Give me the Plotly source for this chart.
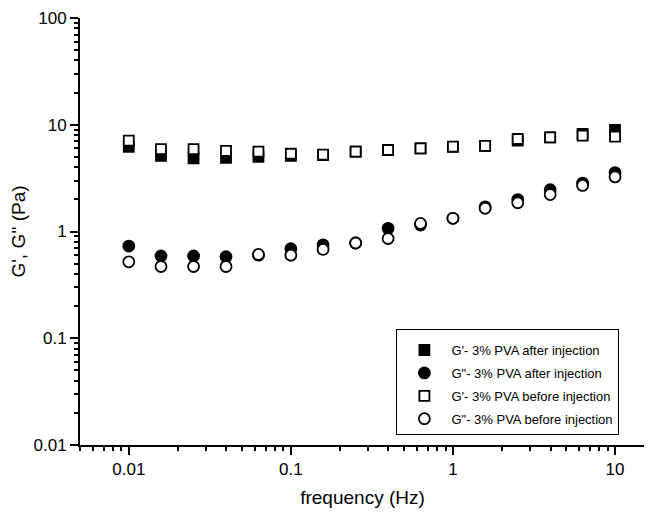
import plotly.graph_objects as go

freq = [0.01, 0.0158, 0.0251, 0.0398, 0.0631, 0.1, 0.158, 0.251, 0.398, 0.631,
        1.0, 1.58, 2.51, 3.98, 6.31, 10.0]

g1_after = [6.2, 5.1, 4.85, 4.9, 5.0, 5.1, 5.2, 5.6, 5.8, 6.0, 6.2, 6.35, 7.1, 7.6, 8.2, 8.95]
g2_after = [0.73, 0.59, 0.59, 0.58, 0.60, 0.69, 0.75, 0.78, 1.07, 1.15, 1.33, 1.7, 1.99, 2.46, 2.84, 3.56]
g1_before = [7.1, 5.9, 5.9, 5.7, 5.6, 5.35, 5.25, 5.6, 5.8, 6.0, 6.25, 6.35, 7.35, 7.6, 7.9, 7.75]
g2_before = [0.52, 0.47, 0.47, 0.47, 0.61, 0.60, 0.68, 0.78, 0.86, 1.19, 1.33, 1.65, 1.86, 2.22, 2.7, 3.25]

names = ["G'- 3% PVA after injection", "G\"- 3% PVA after injection",
         "G'- 3% PVA before injection", "G\"- 3% PVA before injection"]

x_ticks = [0.01, 0.1, 1, 10]
x_labels = ["0.01", "0.1", "1", "10"]
y_ticks = [0.01, 0.1, 1, 10, 100]
y_labels = ["0.01", "0.1", "1", "10", "100"]

FONT = "Arial, Liberation Sans, sans-serif"

fig = go.Figure()
series = [
    (g1_after, names[0], "square", "black"),
    (g2_after, names[1], "circle", "black"),
    (g1_before, names[2], "square", "white"),
    (g2_before, names[3], "circle", "white"),
]
for i, (vals, name, sym, fill) in enumerate(series):
    fig.add_trace(go.Scatter(
        x=freq, y=vals, mode="markers", name=name, legendgroup=str(i),
        marker=dict(symbol=sym, size=10 if sym == "square" else 11, color=fill,
                    line=dict(color="black", width=1.8)),
    ))

axis_common = dict(
    type="log", showgrid=False, zeroline=False, showline=True, linecolor="black",
    linewidth=2, ticks="outside", ticklen=8, tickwidth=2, tickcolor="black",
    tickfont=dict(family=FONT, size=17, color="black"),
    minor=dict(ticks="outside", ticklen=4, tickwidth=1.5, tickcolor="black",
               dtick="D1", showgrid=False),
    mirror=False, automargin=False, ticklabeloverflow="allow",
)

fig.update_xaxes(**axis_common, range=[-2.301, 1.185],
                 tickvals=x_ticks, ticktext=x_labels,
                 title=dict(text="frequency (Hz)", font=dict(family=FONT, size=19, color="black"),
                            standoff=12))
fig.update_yaxes(**axis_common, range=[-2, 2], tickvals=y_ticks, ticktext=y_labels,
                 title=dict(text="G', G'' (Pa)", font=dict(family=FONT, size=19, color="#000000"),
                            standoff=18))

fig.update_layout(
    width=644, height=509,
    margin=dict(l=72, r=7, t=10, b=72),
    paper_bgcolor="white", plot_bgcolor="white",
    font=dict(family=FONT, color="black"),
    showlegend=True,
    legend=dict(
        x=0.56, y=0.272, xanchor="left", yanchor="top",
        bordercolor="black", borderwidth=1, bgcolor="white",
        font=dict(family=FONT, size=13, color="black"),
        tracegroupgap=3, itemwidth=44, entrywidth=178,
        title=dict(text=" ", font=dict(size=4)),
    ),
)

fig.write_html("out.html")
